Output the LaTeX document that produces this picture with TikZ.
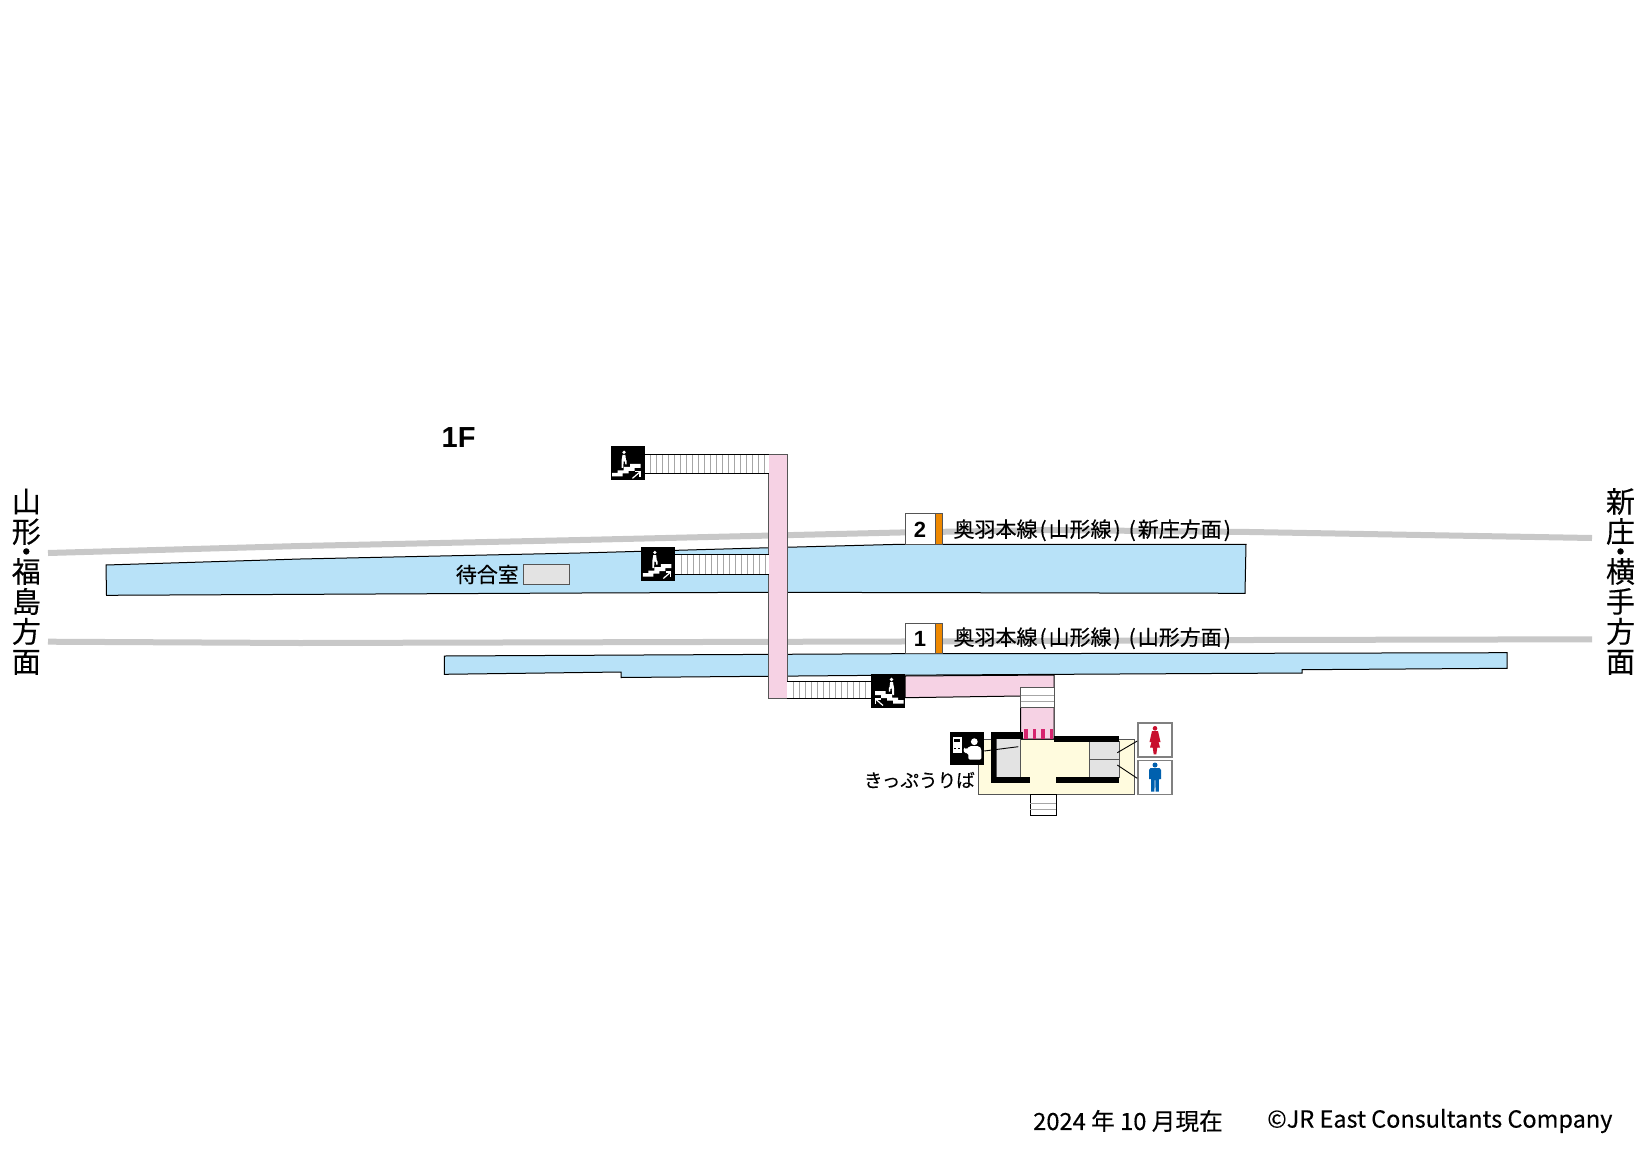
\documentclass[tikz,border=0pt]{standalone}
\usepackage{fontspec}
\setmainfont{Noto Sans CJK JP}[FakeBold=0.25]
\newfontfamily\latinbold{Liberation Sans}[BoldFont={Liberation Sans Bold}]
\definecolor{platblue}{HTML}{B8E2F8}
\definecolor{concpink}{HTML}{F6D2E4}
\definecolor{hallyel}{HTML}{FFFBDE}
\definecolor{roomgray}{HTML}{E3E3E3}
\definecolor{trackgray}{HTML}{C8C8C8}
\definecolor{edgegray}{HTML}{555555}
\definecolor{lineorange}{HTML}{EE8800}
\definecolor{gatemag}{HTML}{D6246E}
\definecolor{wcred}{HTML}{C8102E}
\definecolor{wcblue}{HTML}{0060AE}
\tikzset{
  track/.style={draw=trackgray,line width=6pt},
  outline/.style={draw=black,line width=1pt},
  platform/.style={outline,fill=platblue},
  pinkarea/.style={outline,fill=concpink},
  stairbox/.style={draw=none,fill=white},
  tick/.style={draw=gray!70,line width=.7pt},
  wall/.style={fill=black,draw=none},
  numbox/.style={draw=edgegray,line width=1pt,fill=white},
  wcbox/.style={draw=gray,line width=1.5pt,fill=white},
  label/.style={inner sep=0pt,font=\fontsize{21}{21}\selectfont},
  vlabel/.style={inner sep=0pt,align=center,anchor=north,font=\fontsize{29}{30}\selectfont},
  num/.style={inner sep=0pt,font=\fontsize{22}{22}\selectfont\latinbold\bfseries},
  leader/.style={draw=black,line width=.9pt},
}
\newcommand{\stairicon}[3]{% x y xscale
  \begin{scope}[shift={(#1,#2)},xscale=#3]
    \fill[black] (0,0) rectangle (34,34);
    \fill[white] (1.5,30) -- (1.5,26.5) -- (7,26.5) -- (7,24) -- (13,24) -- (13,20.5) -- (19.5,20.5) -- (19.5,17.5) -- (30,17.5) -- (30,21.5) -- (24,21.5) -- (24,24.5) -- (18,24.5) -- (18,27) -- (12,27) -- (12,30) -- cycle;
    \fill[white] (13.5,6) circle (1.8);
    \fill[white] (12,8.6) -- (14.9,8.6) -- (15.4,13.3) -- (16.2,14.8) -- (16.2,18) -- (14.8,18) -- (14.6,15.4) -- (13.2,15) -- (12.7,21.5) -- (11,21.5) -- (11,14.5) -- cycle;
    \draw[white,line width=1.2pt] (22,32) -- (29.5,25.5);
    \draw[white,line width=1.2pt] (24.5,25.5) -- (29.5,25.5) -- (29.5,30.5);
  \end{scope}}
\begin{document}
\begin{tikzpicture}[x=1pt,y=-1pt]
\useasboundingbox (0,-1) rectangle (1642,1161);
\fill[white] (0,-1) rectangle (1642,1161);
% tracks
\draw[track] (48,552) -- (300,545) -- (580,539) -- (900,531.5) -- (1050,529) -- (1250,531) -- (1592,537);
\draw[track] (48,640.7) -- (300,642) -- (900,640.5) -- (1250,639) -- (1592,638.3);
% platforms
\draw[platform] (106,564) -- (300,558) -- (580,552) -- (770,546.7) -- (900,543.3) -- (1246,543.3) -- (1245,592.3) -- (770,591.3) -- (580,592) -- (106.5,594.3) -- cycle;
\draw[platform] (444.3,655) -- (900,652.7) -- (1250,652.3) -- (1507,651.7) -- (1507,667.3) -- (1302,668.7) -- (1302,672) -- (880,674.3) -- (621,676.5) -- (621,671) -- (444.3,673.3) -- cycle;
% waiting room
\node[label,anchor=east] (waitlabel) at (519,573.5) {待合室};
\node[draw=edgegray,line width=1pt,fill=roomgray,minimum width=45.7pt,minimum height=20pt,inner sep=0pt] (waitroom) at (546.2,573.7) {};
% building
\draw[draw=edgegray,line width=1pt,fill=hallyel] (978,738) rectangle (1134.7,793.3);
% pink concourse
\draw[pinkarea] (905,675) -- (1054,674) -- (1054,738) -- (1020.7,738) -- (1020.7,695) -- (905,696.7) -- cycle;
\draw[pinkarea,draw=edgegray] (768.7,453.3) rectangle (787.3,697.3);
% stairs
\path[stairbox,fill=white] (644,453.3) rectangle (768.7,472.3);
\foreach \x in {650,656,...,766} \draw[tick] (\x,453.3) -- (\x,472.3);
\draw[outline] (644,453.3) -- (768.7,453.3) (644,472.3) -- (768.7,472.3);
\path[stairbox] (675,553.3) rectangle (768.7,573.7);
\foreach \x in {681,687,...,766} \draw[tick] (\x,553.3) -- (\x,573.7);
\draw[outline] (675,553.3) -- (768.7,553.3) (675,573.7) -- (768.7,573.7);
\path[stairbox] (787.3,680.7) rectangle (871.3,697.3);
\foreach \x in {793,799,...,869} \draw[tick] (\x,680.7) -- (\x,697.3);
\draw[outline] (787.3,680.7) -- (871.3,680.7) (787.3,697.3) -- (871.3,697.3);
\draw[draw=edgegray,line width=1pt,fill=white] (1020.7,686.7) rectangle (1054,706.7);
\draw[tick] (1020.7,694) -- (1054,694) (1020.7,700) -- (1054,700);
\draw[outline,fill=white] (1030.3,793.3) rectangle (1056,814);
\draw[tick] (1030.3,802.3) -- (1056,802.3) (1030.3,808.3) -- (1056,808.3);
\stairicon{610.5}{445.3}{1}
\stairicon{641.3}{545.5}{1}
\stairicon{905}{672.5}{-1}
% rooms
\draw[draw=edgegray,line width=1pt,fill=roomgray] (996,737.7) rectangle (1020.7,776);
\draw[draw=edgegray,line width=1pt,fill=roomgray] (1089.3,740.7) rectangle (1119,776);
\draw[draw=edgegray,line width=1pt] (1089.3,758.3) -- (1119,758.3);
% walls
\fill[wall] (990.7,730.7) rectangle (996,781.7);
\fill[wall] (990.7,730.7) rectangle (1023.3,737.7);
\fill[wall] (990.7,776) rectangle (1030,781.7);
\fill[wall] (1054.3,735.3) rectangle (1119,740.7);
\fill[wall] (1056,776) rectangle (1119,781.7);
% gates
\foreach \x in {1024,1032.7,1041.3,1049.7} \fill[gatemag] (\x,728.3) rectangle (\x+3.5,738.3);
% ticket icon
\node[fill=black,minimum size=33.7pt,inner sep=0pt] (ticketicon) at (967.2,747.5) {};
\begin{scope}[shift={(950.3,730.7)}]
  \fill[white] (2.3,5.3) rectangle (11.3,21);
  \fill[black] (3.6,7) rectangle (10,10.5);
  \fill[black] (3.6,16) rectangle (6,17.5);
  \fill[black] (8,16) rectangle (10,17.5);
  \fill[white] (24,10) circle (3.4);
  \fill[white,rounded corners=1.5pt] (19,14.5) -- (29,14.5) -- (31,17) -- (31,28) -- (18,28) -- (18,21.5) -- (14,21.5) -- (13,16.5) -- (15,16) -- (16,18) -- cycle;
\end{scope}
\node[label,anchor=east,font=\fontsize{18.6}{19}\selectfont] (ticketlabel) at (975,779) {きっぷうりば};
% WC
\node[wcbox,minimum width=34pt,minimum height=34pt,inner sep=0pt] (wcf) at (1155,738.8) {};
\node[wcbox,minimum width=34pt,minimum height=34pt,inner sep=0pt] (wcm) at (1155,776.5) {};
\fill[wcred] (1155,727.3) circle (2.3);
\fill[wcred] (1152,730) -- (1158,730) -- (1160.5,741) -- (1158.5,741) -- (1160,746.5) -- (1157.3,746.5) -- (1156.3,753.3) -- (1153.7,753.3) -- (1152.7,746.5) -- (1150,746.5) -- (1151.5,741) -- (1149.5,741) -- cycle;
\fill[wcblue] (1155,764) circle (2.5);
\fill[wcblue] (1150.5,767) -- (1159.5,767) -- (1161,769) -- (1161,778) -- (1159,778) -- (1158.8,790.7) -- (1155.6,790.7) -- (1155.3,779) -- (1154.7,779) -- (1154.4,790.7) -- (1151.2,790.7) -- (1151,778) -- (1149,778) -- (1149,769) -- cycle;
% leaders
\coordinate (lt) at (1018.3,745.7);
\coordinate (lf) at (1117.3,751.7);
\coordinate (lm) at (1117.3,764);
\draw[leader] (ticketicon.east) ++(0,2.5) -- (lt);
\draw[leader] (lf) -- (wcf.west |- 0,740);
\draw[leader] (lm) -- (wcm.west |- 0,777.3);
% line labels
\draw[numbox] (905.3,512.7) rectangle (935.3,543.3);
\draw[numbox,fill=lineorange] (935.3,512.7) rectangle (942.7,543.3);
\node[num] (n2) at (920,529) {2};
\node[label,anchor=west] (l2) at (953.3,529.3) {奥羽本線\kern2pt(\kern2pt山形線\kern2pt)\kern8pt(\kern2pt新庄方面\kern2pt)};
\draw[numbox] (905.3,622.3) rectangle (935.3,652.7);
\draw[numbox,fill=lineorange] (935.3,622.3) rectangle (942.7,652.7);
\node[num] (n1) at (920,637.5) {1};
\node[label,anchor=west] (l1) at (953.3,637.3) {奥羽本線\kern2pt(\kern2pt山形線\kern2pt)\kern8pt(\kern2pt山形方面\kern2pt)};
% titles
\node[inner sep=0pt,font=\fontsize{29}{29}\selectfont\latinbold\bfseries] (floor) at (458.6,436.3) {1F};
\node[vlabel] (west) at (26.3,487.5) {\lineskiplimit=-100pt 山\\形\\[-10pt]・\\[-10pt]福\\島\\方\\面};
\node[vlabel] (east) at (1620.5,487) {\lineskiplimit=-100pt 新\\庄\\[-10pt]・\\[-10pt]横\\手\\方\\面};
% footer
\node[inner sep=0pt,anchor=west,font=\fontsize{23.7}{24}\selectfont] (date) at (1033,1120) {2024 年 10 月現在};
\node[inner sep=0pt,anchor=west,font=\fontsize{23.5}{24}\selectfont] (copy) at (1267,1120) {©JR East Consultants Company};
\end{tikzpicture}
\end{document}
